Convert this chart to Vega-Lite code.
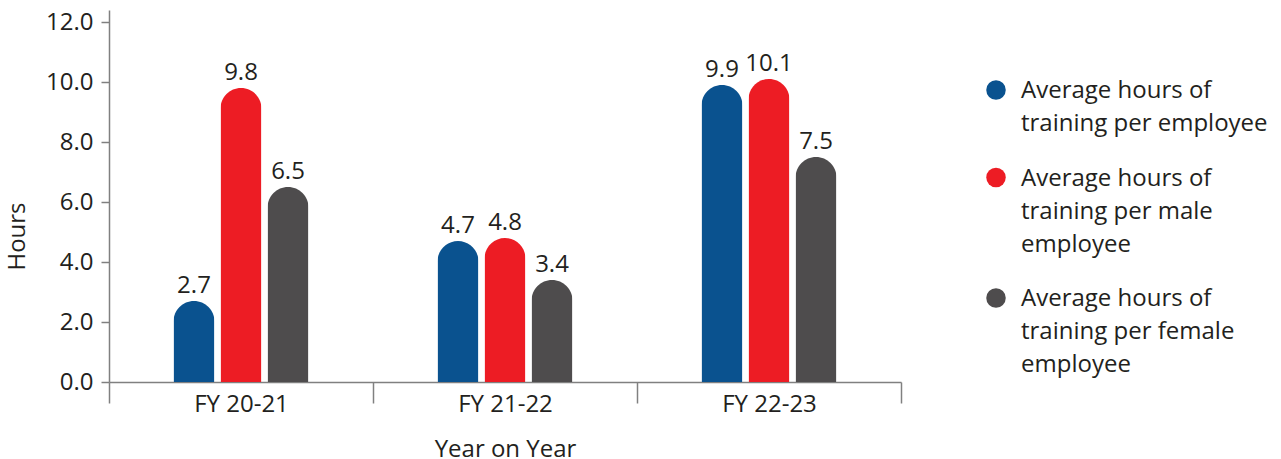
{
  "$schema": "https://vega.github.io/schema/vega-lite/v6.json",
  "width": 792,
  "height": 372,
  "autosize": {"type": "none"},
  "padding": {"left": 109, "top": 10, "right": 380, "bottom": 77},
  "background": "white",
  "config": {"view": {"stroke": null}, "font": "Open Sans"},
  "data": {
    "values": [
      {"year": "FY 20-21", "metric": "Average hours of training per employee", "value": 2.7},
      {"year": "FY 20-21", "metric": "Average hours of training per male employee", "value": 9.8},
      {"year": "FY 20-21", "metric": "Average hours of training per female employee", "value": 6.5},
      {"year": "FY 21-22", "metric": "Average hours of training per employee", "value": 4.7},
      {"year": "FY 21-22", "metric": "Average hours of training per male employee", "value": 4.8},
      {"year": "FY 21-22", "metric": "Average hours of training per female employee", "value": 3.4},
      {"year": "FY 22-23", "metric": "Average hours of training per employee", "value": 9.9},
      {"year": "FY 22-23", "metric": "Average hours of training per male employee", "value": 10.1},
      {"year": "FY 22-23", "metric": "Average hours of training per female employee", "value": 7.5}
    ]
  },
  "encoding": {
    "x": {
      "field": "year", "type": "nominal", "sort": ["FY 20-21", "FY 21-22", "FY 22-23"],
      "scale": {"paddingInner": 0, "paddingOuter": 0},
      "axis": {
        "title": "Year on Year", "labelAngle": 0, "tickBand": "extent", "tickSize": 21,
        "labelPadding": -11, "titlePadding": 21, "labelFontSize": 24, "titleFontSize": 24,
        "labelFont": "Open Sans", "titleFont": "Open Sans", "titleFontWeight": "normal",
        "labelColor": "#231f20", "titleColor": "#231f20",
        "domainColor": "#808080", "tickColor": "#808080", "domainWidth": 1.5, "tickWidth": 1.5, "grid": false
      }
    },
    "xOffset": {
      "field": "metric", "type": "nominal",
      "scale": {
        "domain": ["pad-left", "Average hours of training per employee", "Average hours of training per male employee", "Average hours of training per female employee", "pad-right"],
        "paddingInner": 0.128, "paddingOuter": 0.372
      }
    },
    "y": {
      "field": "value", "type": "quantitative",
      "scale": {"domain": [0, 12.4], "nice": false},
      "axis": {
        "title": "Hours", "values": [0, 2, 4, 6, 8, 10, 12], "format": ".1f", "grid": false,
        "tickSize": 8, "labelPadding": 8, "titlePadding": 16, "titleY": 226, "labelFontSize": 24, "titleFontSize": 24,
        "labelFont": "Open Sans", "titleFont": "Open Sans", "titleFontWeight": "normal",
        "labelColor": "#231f20", "titleColor": "#231f20",
        "domainColor": "#808080", "tickColor": "#808080", "domainWidth": 1.5, "tickWidth": 1.5
      }
    }
  },
  "layer": [
    {
      "mark": {"type": "bar", "cornerRadiusTopLeft": 20.5, "cornerRadiusTopRight": 20.5},
      "encoding": {
        "color": {
          "field": "metric", "type": "nominal",
          "scale": {
            "domain": ["Average hours of training per employee", "Average hours of training per male employee", "Average hours of training per female employee"],
            "range": ["#0a528f", "#ed1c24", "#4e4c4d"]
          },
          "legend": {
            "title": null, "orient": "none", "legendX": 875, "legendY": 68,
            "symbolType": "circle", "symbolSize": 380, "symbolStrokeWidth": 0, "symbolOpacity": 1,
            "labelFontSize": 24, "labelFont": "Open Sans", "labelColor": "#231f20", "labelLimit": 400,
            "labelOffset": 13, "rowPadding": 29.5, "labelBaseline": "top",
            "labelExpr": "datum.value == 'Average hours of training per employee' ? ['Average hours of', 'training per employee'] : datum.value == 'Average hours of training per male employee' ? ['Average hours of', 'training per male', 'employee'] : ['Average hours of', 'training per female', 'employee']",
            "encode": {"labels": {"update": {"lineHeight": {"value": 33}, "dy": {"value": -11}}}}
          }
        }
      }
    },
    {
      "mark": {"type": "text", "baseline": "alphabetic", "dy": -8, "fontSize": 24, "font": "Open Sans", "color": "#231f20"},
      "encoding": {
        "text": {"field": "value", "type": "quantitative", "format": ".1f"}
      }
    }
  ]
}
